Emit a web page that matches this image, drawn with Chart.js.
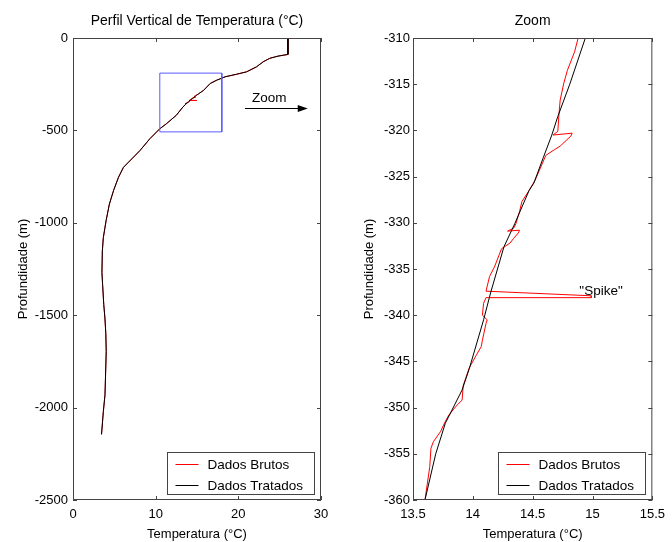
<!DOCTYPE html>
<html lang="pt">
<head>
<meta charset="utf-8">
<title>Perfil Vertical de Temperatura</title>
<script src="https://cdn.jsdelivr.net/npm/chart.js@4.4.0/dist/chart.umd.min.js"></script>
<style>
  body { margin: 0; background: #fff; }
  #figura { position: relative; width: 672px; height: 542px; }
  #figura canvas { position: absolute; top: 0; }
  #perfil { left: 0; }
  #zoom { left: 336px; }
</style>
</head>
<body>
<div id="figura">
  <canvas id="perfil" width="336" height="542"></canvas>
  <canvas id="zoom" width="336" height="542"></canvas>
</div>
<script>
// perfil acima e abaixo do trecho ampliado (temperatura em °C, profundidade em m)
const topoTemp  = [26.0, 26.0, 24.8, 23.8, 23.0, 22.2, 21.0, 19.8, 18.4, 17.4, 16.6, 15.8, 15.2];
const topoProf  = [0, -89, -98, -110, -129, -156, -183, -196, -210, -228, -246, -283, -302];
const fundoTemp = [13.3, 12.5, 11.3, 10.5, 9.3, 8.1, 6.1, 5.5, 4.9, 4.4, 4.0, 3.67, 3.55, 3.5, 3.58, 3.72, 3.86, 3.97, 4.02, 3.87, 3.67, 3.45];
const fundoProf = [-373, -418, -464, -491, -545, -609, -700, -754, -826, -899, -989, -1080, -1152, -1270, -1333, -1442, -1515, -1600, -1696, -1931, -2022, -2145];

// trecho -310 a -360 m: dados brutos
const brutoTemp = [14.88, 14.85, 14.79, 14.76, 14.73, 14.72, 14.71, 14.67, 14.83, 14.82, 14.73, 14.68, 14.61, 14.52,
                   14.47, 14.41, 14.39, 14.36, 14.34, 14.29, 14.39, 14.38, 14.34, 14.31, 14.24, 14.18, 14.14, 14.11,
                   14.99, 14.99, 14.11, 14.09, 14.08, 14.12, 14.11, 14.08, 14.07, 14.03, 13.97,
                   13.92, 13.91, 13.87, 13.80, 13.77, 13.73, 13.67, 13.65, 13.64, 13.60];
const brutoProf = [-310, -311.5, -313.5, -314.9, -316.7, -318.2, -320.1, -320.5, -320.3, -320.6, -321.7, -322.1, -322.7, -325.4,
                   -326.5, -327.7, -328.8, -330.1, -330.6, -330.9, -330.8, -331.1, -331.7, -332.2, -332.8, -334.8, -335.8, -337.4,
                   -337.9, -338.1, -338.1, -338.7, -340.0, -340.5, -340.9, -342.7, -343.4, -344.3, -345.7,
                   -347.6, -349.2, -349.7, -350.8, -351.5, -352.6, -353.7, -354.4, -356.4, -360];

// trecho -310 a -360 m: dados tratados
const tratTemp = [14.94, 14.81, 14.71, 14.66, 14.59, 14.51, 14.47, 14.35, 14.26, 14.15, 14.09, 13.97, 13.91, 13.77, 13.69, 13.60];
const tratProf = [-310, -315, -318.5, -320.5, -322.9, -325.7, -326.5, -330.1, -332.6, -337.5, -340.5, -345.8, -348.1, -351.7, -355.0, -360];

// caixa do zoom no perfil
const caixaTemp = [10.5, 18, 18, 10.5, 10.5];
const caixaProf = [-190, -190, -508, -508, -190];

// seta e textos
const setaTemp = [20.8, 28.4];
const setaProf = [-380, -380];
const textoZoom = ['Zoom', 21.65, -346];
const textoSpike = ['"Spike"', 14.89, -337.8];

// eixos
const ticksTempPerfil = [0, 10, 20, 30];
const ticksProfPerfil = [-2500, -2000, -1500, -1000, -500, 0];
const ticksTempZoom = [13.5, 14, 14.5, 15, 15.5];
const ticksProfZoom = [-360, -355, -350, -345, -340, -335, -330, -325, -320, -315, -310];

const legenda = ['Dados Brutos', 'Dados Tratados'];
const fonte = '"Liberation Sans", Arial, Helvetica, sans-serif';

Chart.defaults.font.family = fonte;
Chart.defaults.color = '#000';

function pares(xs, ys) {
  return xs.map((v, i) => ({ x: v, y: ys[i] }));
}

const perfilBrutoT = topoTemp.concat(brutoTemp, fundoTemp);
const perfilBrutoP = topoProf.concat(brutoProf, fundoProf);
const perfilTratT = topoTemp.concat(tratTemp, fundoTemp);
const perfilTratP = topoProf.concat(tratProf, fundoProf);

// moldura, ticks para dentro, legenda e anotacoes no estilo do matlab
const quadro = {
  id: 'quadro',
  afterDatasetsDraw(chart, args, opts) {
    const { ctx, chartArea: a, scales: { x, y } } = chart;
    ctx.save();

    if (opts.seta) {
      const px0 = x.getPixelForValue(opts.seta[0][0]);
      const px1 = x.getPixelForValue(opts.seta[0][1]);
      const py = Math.round(y.getPixelForValue(opts.seta[1][0])) + 0.5;
      ctx.strokeStyle = '#000';
      ctx.lineWidth = 1;
      ctx.beginPath();
      ctx.moveTo(px0, py);
      ctx.lineTo(px1 - 6, py);
      ctx.stroke();
      ctx.fillStyle = '#000';
      ctx.beginPath();
      ctx.moveTo(px1, py);
      ctx.lineTo(px1 - 10, py - 3.5);
      ctx.lineTo(px1 - 10, py + 3.5);
      ctx.closePath();
      ctx.fill();
    }
    ctx.fillStyle = '#000';
    ctx.font = '13.5px ' + fonte;
    ctx.textAlign = 'left';
    ctx.textBaseline = 'alphabetic';
    (opts.textos || []).forEach(t => {
      ctx.fillText(t[0], x.getPixelForValue(t[1]), y.getPixelForValue(t[2]));
    });

    // moldura
    ctx.strokeStyle = '#444';
    ctx.lineWidth = 1;
    ctx.strokeRect(a.left + 0.5, a.top + 0.5, a.right - a.left - 1, a.bottom - a.top - 1);

    // ticks para dentro nos quatro lados
    const tl = 4;
    ctx.beginPath();
    x.ticks.forEach(t => {
      const p = Math.round(x.getPixelForValue(t.value)) + 0.5;
      ctx.moveTo(p, a.bottom); ctx.lineTo(p, a.bottom - tl);
      ctx.moveTo(p, a.top); ctx.lineTo(p, a.top + tl);
    });
    y.ticks.forEach(t => {
      const p = Math.round(y.getPixelForValue(t.value)) + 0.5;
      ctx.moveTo(a.left, p); ctx.lineTo(a.left + tl, p);
      ctx.moveTo(a.right, p); ctx.lineTo(a.right - tl, p);
    });
    ctx.stroke();

    // legenda
    const itens = chart.data.datasets.filter(d => d.label);
    const w = 147, h = 42;
    const bx = Math.round(a.right - 7 - w) + 0.5;
    const by = Math.round(a.bottom - 6 - h) + 0.5;
    ctx.fillStyle = '#fff';
    ctx.fillRect(bx, by, w, h);
    ctx.strokeStyle = '#444';
    ctx.strokeRect(bx, by, w, h);
    ctx.font = '13.5px ' + fonte;
    ctx.textBaseline = 'middle';
    itens.forEach((d, i) => {
      const ly = Math.round(by + 11 + i * 21) + 0.5;
      ctx.strokeStyle = d.borderColor;
      ctx.beginPath();
      ctx.moveTo(bx + 8, ly);
      ctx.lineTo(bx + 31, ly);
      ctx.stroke();
      ctx.fillStyle = '#000';
      ctx.fillText(d.label, bx + 40, ly + 1);
    });
    ctx.restore();
  }
};

function eixo(min, max, ticks, titulo, largura, altura, padTicks, padTitulo) {
  return {
    type: 'linear',
    min: min,
    max: max,
    afterBuildTicks: s => { s.ticks = ticks.map(v => ({ value: v })); },
    afterFit: s => {
      if (largura) s.width = largura;
      if (altura) s.height = altura;
    },
    grid: { display: false, drawTicks: false },
    border: { display: false },
    ticks: { color: '#000', font: { size: 13 }, padding: padTicks, autoSkip: false, maxRotation: 0,
             callback: v => String(v) },
    title: { display: true, text: titulo, color: '#000', font: { size: 13 }, padding: padTitulo }
  };
}

function linha(label, data, cor, ordem) {
  return { label: label, data: data, borderColor: cor, borderWidth: 1, showLine: true,
           pointRadius: 0, fill: false, tension: 0, order: ordem };
}

function grafico(id, titulo, datasets, sx, sy, padDir, opcoesQuadro) {
  return new Chart(document.getElementById(id), {
    type: 'scatter',
    data: { datasets: datasets },
    options: {
      responsive: false,
      animation: false,
      events: [],
      layout: { padding: { left: 0, right: padDir, top: 0, bottom: 0 } },
      plugins: {
        legend: { display: false },
        tooltip: { enabled: false },
        title: { display: true, text: titulo, color: '#000', fullSize: false,
                 font: { size: 14, weight: 'normal' }, padding: { top: 13, bottom: 8.2 } },
        quadro: opcoesQuadro
      },
      scales: { x: sx, y: sy }
    },
    plugins: [quadro]
  });
}

grafico('perfil', 'Perfil Vertical de Temperatura (°C)', [
    linha(legenda[0], pares(perfilBrutoT, perfilBrutoP), '#ff0000', 2),
    linha(legenda[1], pares(perfilTratT, perfilTratP), '#000000', 1),
    linha(undefined, pares(caixaTemp, caixaProf), '#5b5bff', 0)
  ],
  eixo(0, 30, ticksTempPerfil, 'Temperatura (°C)', 0, 42, 7, { top: 0, bottom: 0 }),
  eixo(-2500, 0, ticksProfPerfil, 'Profundidade (m)', 73, 0, 5, { top: 15.5, bottom: 0 }),
  15,
  { seta: [setaTemp, setaProf], textos: [textoZoom] }
);

grafico('zoom', 'Zoom', [
    linha(legenda[0], pares(brutoTemp, brutoProf), '#ff0000', 2),
    linha(legenda[1], pares(tratTemp, tratProf), '#000000', 1)
  ],
  eixo(13.5, 15.5, ticksTempZoom, 'Temperatura (°C)', 0, 42, 7, { top: 0, bottom: 0 }),
  eixo(-360, -310, ticksProfZoom, 'Profundidade (m)', 77, 0, 3, { top: 26, bottom: 0 }),
  11,
  { textos: [textoSpike] }
);
</script>
</body>
</html>
